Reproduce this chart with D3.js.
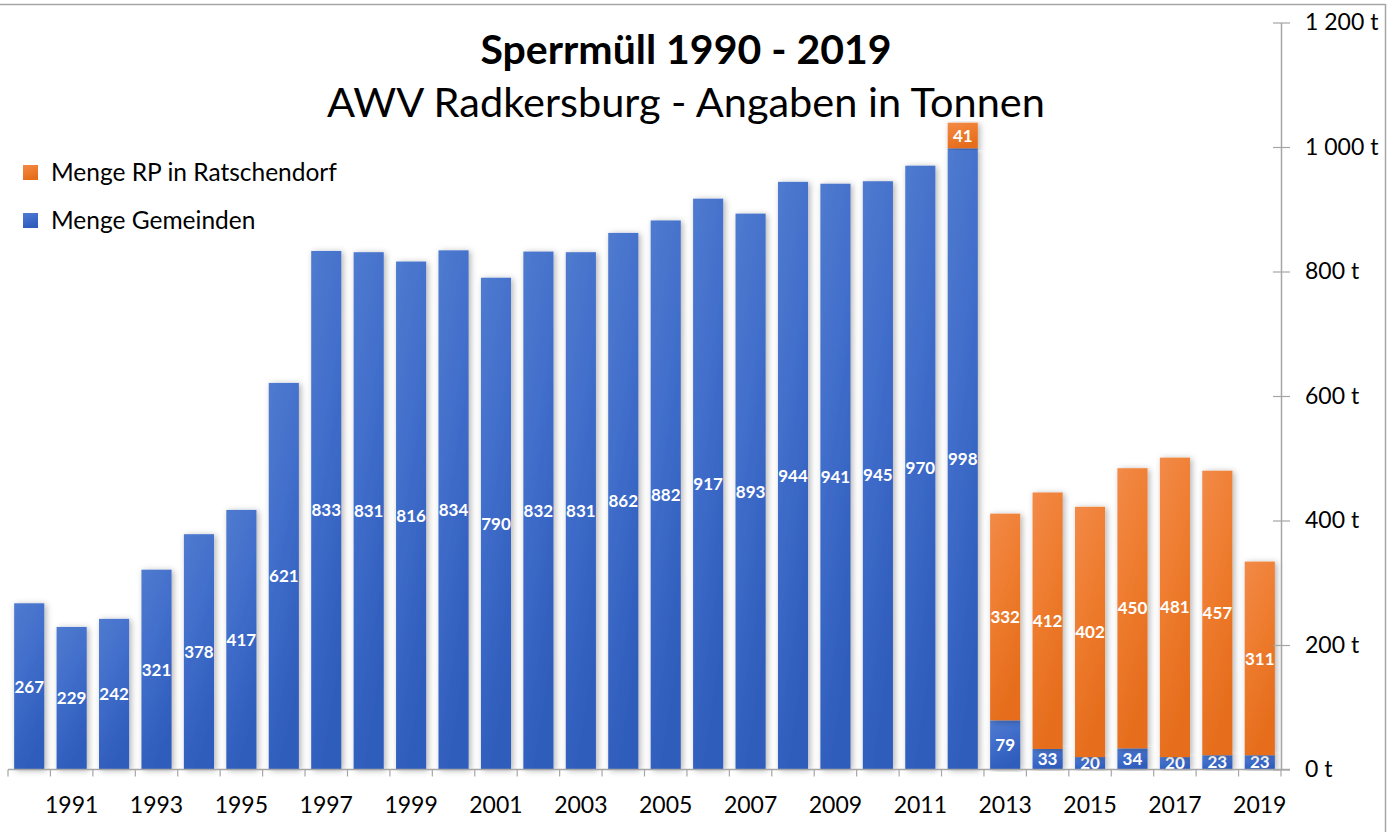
<!DOCTYPE html>
<html>
<head>
<meta charset="utf-8">
<script src="https://cdn.jsdelivr.net/npm/d3@7"></script>
<style>
  body { margin: 0; background: #fff; }
  svg { font-family: Lato, "Open Sans", sans-serif; }
</style>
</head>
<body>
<div id="chart"></div>
<script>
// data
var years = d3.range(1990, 2020);
var gemeinden = [267, 229, 242, 321, 378, 417, 621, 833, 831, 816, 834, 790, 832, 831, 862,
                 882, 917, 893, 944, 941, 945, 970, 998, 79, 33, 20, 34, 20, 23, 23];
var ratschendorf = [0, 0, 0, 0, 0, 0, 0, 0, 0, 0, 0, 0, 0, 0, 0,
                    0, 0, 0, 0, 0, 0, 0, 41, 332, 412, 402, 450, 481, 457, 311];
var yTicks = [0, 200, 400, 600, 800, 1000, 1200];
var seriesNames = ["Menge RP in Ratschendorf", "Menge Gemeinden"];

var W = 1399, H = 832;
var svg = d3.select("#chart").append("svg")
    .attr("width", W).attr("height", H);

var defs = svg.append("defs");
function grad(id, c1, c2, c3) {
  var g = defs.append("linearGradient").attr("id", id)
      .attr("x1", "0").attr("y1", "0").attr("x2", "0.35").attr("y2", "1");
  g.append("stop").attr("offset", "0%").attr("stop-color", c1);
  g.append("stop").attr("offset", "45%").attr("stop-color", c2);
  g.append("stop").attr("offset", "100%").attr("stop-color", c3);
}
grad("gBlue", "#4f7bcf", "#416ecb", "#2f5dbc");
grad("gOrange", "#f28a48", "#ef7d30", "#e56d1c");
var f = defs.append("filter").attr("id", "shadow")
    .attr("x", "-30%").attr("y", "-5%").attr("width", "160%").attr("height", "110%");
f.append("feDropShadow").attr("dx", 2).attr("dy", 1).attr("stdDeviation", 3)
    .attr("flood-color", "#000").attr("flood-opacity", 0.3);

// frame
svg.append("line").attr("x1", 0).attr("x2", 1385).attr("y1", 4.5).attr("y2", 4.5)
    .attr("stroke", "#a6a6a6").attr("stroke-width", 1.5);
svg.append("line").attr("x1", 1385.5).attr("x2", 1385.5).attr("y1", 4).attr("y2", H)
    .attr("stroke", "#a6a6a6").attr("stroke-width", 1.5);

var x = d3.scaleBand().domain(years).range([8, 1281]).paddingInner(0.29).paddingOuter(0.145);
var y = d3.scaleLinear().domain([0, 1200]).range([769.5, 22.5]);

var stackData = years.map(function (yr, i) {
  return { year: yr, gem: gemeinden[i], rat: ratschendorf[i] };
});
var stack = d3.stack().keys(["gem", "rat"])(stackData);
var fills = { gem: "url(#gBlue)", rat: "url(#gOrange)" };

var layers = svg.append("g").selectAll("g").data(stack).enter().append("g")
    .attr("fill", function (d) { return fills[d.key]; });

layers.selectAll("rect")
    .data(function (d) { return d.filter(function (s) { return s[1] - s[0] > 0; }); })
    .enter().append("rect")
      .attr("x", function (d) { return x(d.data.year); })
      .attr("width", x.bandwidth())
      .attr("y", function (d) { return y(d[1]); })
      .attr("height", function (d) { return y(d[0]) - y(d[1]); })
      .attr("filter", "url(#shadow)");

// value labels
layers.selectAll("text")
    .data(function (d) { return d.filter(function (s) { return s[1] - s[0] > 0; }); })
    .enter().append("text")
      .attr("x", function (d) { return x(d.data.year) + x.bandwidth() / 2; })
      .attr("y", function (d) { return (y(d[0]) + y(d[1])) / 2; })
      .attr("dy", "0.36em")
      .attr("text-anchor", "middle")
      .attr("fill", "#fff")
      .attr("font-weight", "bold")
      .attr("font-size", 17)
      .text(function (d) { return d[1] - d[0]; });

// x axis
var xAxis = svg.append("g")
    .attr("transform", "translate(0," + y(0) + ")");
xAxis.append("line").attr("x1", 8).attr("x2", 1290).attr("stroke", "#a6a6a6").attr("stroke-width", 1.5);
xAxis.selectAll("line.tk").data(years.concat([2020])).enter().append("line")
    .attr("class", "tk")
    .attr("x1", function (d, i) { return i < years.length ? x(d) - x.step() * x.paddingInner() / 2 : 1281; })
    .attr("x2", function (d, i) { return i < years.length ? x(d) - x.step() * x.paddingInner() / 2 : 1281; })
    .attr("y1", 0).attr("y2", 7)
    .attr("stroke", "#a6a6a6").attr("stroke-width", 1.2);
xAxis.selectAll("text").data(years.filter(function (d) { return d % 2 === 1; }))
    .enter().append("text")
      .attr("x", function (d) { return x(d) + x.bandwidth() / 2; })
      .attr("y", 43)
      .attr("text-anchor", "middle")
      .attr("font-size", 23)
      .attr("fill", "#000")
      .text(function (d) { return d; });

// y axis (right)
var fmt = function (v) { return d3.format(",")(v).replace(/,/g, " ") + " t"; };
var yAxis = svg.append("g").attr("transform", "translate(1281,0)")
    .call(d3.axisRight(y).tickValues(yTicks).tickSize(0).tickFormat(fmt));
yAxis.select(".domain").attr("stroke", "#a6a6a6").attr("stroke-width", 1.5);
yAxis.selectAll(".tick line").attr("x1", -8).attr("x2", 9).attr("stroke", "#a6a6a6").attr("stroke-width", 1.2);
yAxis.selectAll(".tick text").attr("x", 24).attr("font-size", 23)
    .attr("font-family", "Lato, sans-serif").attr("fill", "#000");

// titles
svg.append("text").attr("x", 686).attr("y", 64).attr("text-anchor", "middle")
    .attr("font-size", 41).attr("font-weight", "bold").text("Sperrmüll 1990 - 2019");
svg.append("text").attr("x", 686).attr("y", 117).attr("text-anchor", "middle")
    .attr("font-size", 41.5).text("AWV Radkersburg - Angaben in Tonnen");

// legend
var legend = svg.append("g").selectAll("g").data(seriesNames).enter().append("g")
    .attr("transform", function (d, i) { return "translate(23," + (165 + i * 48) + ")"; });
legend.append("rect").attr("width", 15).attr("height", 15)
    .attr("fill", function (d, i) { return i === 0 ? "url(#gOrange)" : "url(#gBlue)"; });
legend.append("text").attr("x", 28).attr("y", 7.5).attr("dy", "0.36em")
    .attr("font-size", 24.5).text(function (d) { return d; });
</script>
</body>
</html>
